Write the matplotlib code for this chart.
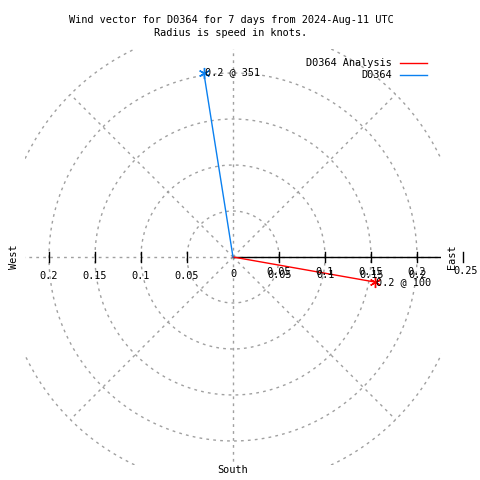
import numpy as np
import matplotlib
matplotlib.use("Agg")
import matplotlib.pyplot as plt

# wind vectors: speed (knots) and direction (degrees, compass)
series = ["D0364 Analysis", "D0364"]
speeds = [0.157, 0.203]
directions = [100, 351]
point_labels = ["0.2 @ 100", "0.2 @ 351"]
colors = ["#ff0000", "#0a80f0"]

ring_radii = [0.05, 0.1, 0.15, 0.2, 0.25]
tick_labels = ["0.05", "0.1", "0.15", "0.2", "0.25"]
spoke_angles = [0, 45, 90, 135, 180, 225, 270, 315]

FONT = "DejaVu Sans Mono"
FS = 7.4
GRID = "#a0a0a0"
LIM = 208 / 920.0
PX = 1 / 920.0  # one pixel in data units

fig = plt.figure(figsize=(4.8, 4.8), dpi=100)
ax = fig.add_axes([25 / 480, 15 / 480, 416 / 480, 416 / 480])
ax.set_xlim(-LIM, LIM)
ax.set_ylim(-LIM, LIM)
ax.set_aspect("equal")
ax.axis("off")

# range rings
t = np.linspace(0, 2 * np.pi, 721)
for r in ring_radii:
    ax.plot(r * np.cos(t), r * np.sin(t), color=GRID, lw=1, ls=(0, (2, 3)))

# spokes out to the outer ring
rmax = ring_radii[-1]
for a in spoke_angles:
    rad = np.deg2rad(a)
    ax.plot([0, rmax * np.cos(rad)], [0, rmax * np.sin(rad)], color=GRID, lw=1, ls=(0, (2, 3)))

# zero axis (right half solid black)
ax.plot([0, LIM], [0, 0], color="black", lw=1)

# ticks along the horizontal axis
for r in ring_radii:
    for s in (1, -1):
        if s == -1 and r > 0.2:
            continue
        ax.plot([s * r, s * r], [-5 * PX, 5 * PX], color="black", lw=1, clip_on=False)

# tick labels (right side printed twice, slightly offset, as in the source)
for r, lab in zip(ring_radii, tick_labels):
    if r <= 0.2:
        ax.text(r, -15 * PX, lab, ha="center", va="center", family=FONT, fontsize=FS)
        ax.text(r + PX, -18 * PX, lab, ha="center", va="center", family=FONT, fontsize=FS)
        ax.text(-r, -19 * PX, lab, ha="center", va="center", family=FONT, fontsize=FS)
    else:
        ax.text(r + 3 * PX, -14 * PX, lab, ha="center", va="center", family=FONT,
                fontsize=FS, clip_on=False)
ax.text(0, -17 * PX, "0", ha="center", va="center", family=FONT, fontsize=FS)

# compass labels
ax.text(219 * PX, 0, "East", rotation=90, ha="center", va="center", family=FONT, fontsize=FS)
ax.text(-219 * PX, 0, "West", rotation=90, ha="center", va="center", family=FONT, fontsize=FS)
ax.text(0, -213 * PX, "South", ha="center", va="center", family=FONT, fontsize=FS)

# wind vectors
for name, spd, d, lab, c in zip(series, speeds, directions, point_labels, colors):
    rad = np.deg2rad(d)
    x, y = spd * np.sin(rad), spd * np.cos(rad)
    ax.plot([0, x], [0, y], color=c, lw=1)
    ax.plot([x], [y], marker=(6, 2, 0), color=c, ms=8, mew=1)
    ax.text(x + PX, y, lab, ha="left", va="center", family=FONT, fontsize=FS)

# legend
for i, (name, c) in enumerate(zip(series, colors)):
    yy = 1 - (63 + 12 * i) / 480
    fig.text(392 / 480, yy, name, ha="right", va="center", family=FONT, fontsize=FS)
    fig.add_artist(plt.Line2D([400 / 480, 427 / 480], [yy, yy], color=c, lw=1))

fig.text(231 / 480, 1 - 20 / 480, "Wind vector for D0364 for 7 days from 2024-Aug-11 UTC",
         ha="center", va="center", family=FONT, fontsize=FS)
fig.text(231 / 480, 1 - 33 / 480, "Radius is speed in knots.",
         ha="center", va="center", family=FONT, fontsize=FS)

fig.savefig("out.png", dpi=100, facecolor="white")
